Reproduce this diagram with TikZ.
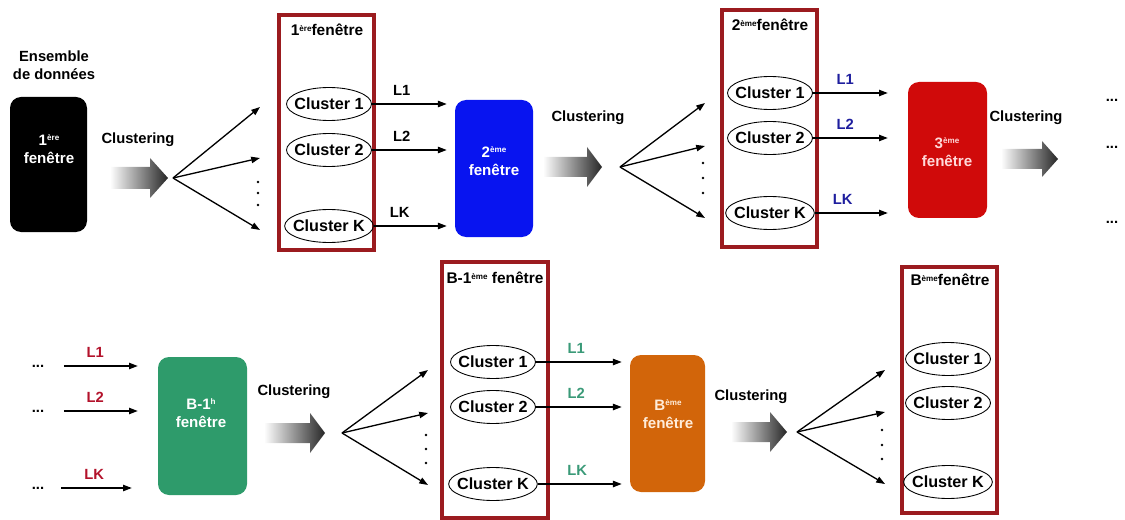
\documentclass[tikz,border=0pt]{standalone}
\usepackage{fontspec}
\setmainfont{Liberation Sans}
\usetikzlibrary{arrows.meta,shapes.geometric,fit}

\definecolor{framered}{HTML}{9B1B1F}
\definecolor{winblue}{HTML}{0814F0}
\definecolor{winred}{HTML}{D00A0A}
\definecolor{wingreen}{HTML}{2E9B6B}
\definecolor{winorange}{HTML}{D2650A}
\definecolor{lblblue}{HTML}{1E1E9E}
\definecolor{lblred}{HTML}{B3122B}
\definecolor{lblgreen}{HTML}{3A9A78}

% small raised ordinal suffix
\newcommand\ordsup[1]{\raisebox{0.55ex}{\fontsize{4.6}{5}\selectfont #1}}

% shaded "Clustering" arrow: shaft start, head start, tip, centre y, shaft half height, head half height
\newcommand\gradarrow[6]{%
  \shade[left color=white, right color=black!85]
    (#1,#4-#5) -- (#2,#4-#5) -- (#2,#4-#6) -- (#3,#4) -- (#2,#4+#6)
    -- (#2,#4+#5) -- (#1,#4+#5) -- cycle;}

\newcommand\vdotsat[4]{%
  \foreach \yy in {#2,#3,#4} {\fill (#1,\yy) circle[radius=1.3];}}

\begin{document}
\begin{tikzpicture}[x=0.02cm, y=-0.02cm,
  txt/.style={font=\bfseries\fontsize{8.4}{10.2}\selectfont, inner sep=1pt},
  ttl/.style={font=\bfseries\fontsize{8.8}{10}\selectfont, inner sep=1pt},
  cl/.style={ellipse, draw, line width=0.5pt, inner xsep=-2.6pt, inner ysep=0pt,
    minimum width=1.7cm, minimum height=0.66cm,
    font=\bfseries\fontsize{9.2}{10}\selectfont},
  frame/.style={draw=framered, line width=2.2pt, inner sep=0pt},
  win/.style={rounded corners=0.22cm, inner sep=0pt},
  wintxt/.style={font=\bfseries\fontsize{8.6}{10.2}\selectfont, align=center, inner sep=0pt},
  arr/.style={-{Triangle[length=5pt,width=3.6pt]}, line width=0.75pt},
  lab/.style={font=\bfseries\fontsize{8.4}{10}\selectfont, above=3.5pt, inner sep=1pt}
]
\useasboundingbox (0,0) rectangle (1125,520);

%% ---------------- top row ----------------
\node[txt, align=center] (ens) at (54,65) {Ensemble\\de données};

\node[win, fill=black, fit={(10,97) (87,232)}] (win1) {};
\node[wintxt, text=white] (win1t) at (49,149) {1\ordsup{ère}\\fenêtre};

\node[txt] (clu1) at (138,140) {Clustering};
\gradarrow{110}{150}{168}{178}{11}{20}

\coordinate (o1) at (173,178);
\coordinate (t11) at (260,107);
\coordinate (t12) at (260,158);
\coordinate (t1k) at (260,230);
\draw[arr] (o1) -- (t11);
\draw[arr] (o1) -- (t12);
\draw[arr] (o1) -- (t1k);
\vdotsat{258}{182}{193}{205}

\node[frame, fit={(279,15) (374,250)}] (fr1) {};
\node[ttl] (fr1t) at (327,30) {1\ordsup{ère}fenêtre};
\node[cl] (w1c1) at (329,104) {Cluster 1};
\node[cl] (w1c2) at (329,150) {Cluster 2};
\node[cl] (w1ck) at (329,226) {Cluster K};

\node[win, fill=winblue, fit={(455,100) (533,237)}] (win2) {};
\node[wintxt, text=white] (win2t) at (494,161) {2\ordsup{ème}\\fenêtre};

\draw[arr, shorten >=4.5pt] (w1c1.east) -- (w1c1.east -| win2.west) node[lab, pos=0.36] {L1};
\draw[arr, shorten >=4.5pt] (w1c2.east) -- (w1c2.east -| win2.west) node[lab, pos=0.36] {L2};
\draw[arr, shorten >=4.5pt] (w1ck.east) -- (w1ck.east -| win2.west) node[lab, pos=0.32] {LK};

\node[txt] (clu2) at (588,118) {Clustering};
\gradarrow{543}{587}{602}{167}{10}{20}

\coordinate (o2) at (620,167);
\coordinate (t21) at (705,103);
\coordinate (t22) at (705,146);
\coordinate (t2k) at (705,218);
\draw[arr] (o2) -- (t21);
\draw[arr] (o2) -- (t22);
\draw[arr] (o2) -- (t2k);
\vdotsat{703}{163}{178}{193}

\node[frame, fit={(722,10) (817,247)}] (fr2) {};
\node[ttl] (fr2t) at (770,25) {2\ordsup{ème}fenêtre};
\node[cl] (w2c1) at (770,93) {Cluster 1};
\node[cl] (w2c2) at (770,138) {Cluster 2};
\node[cl] (w2ck) at (770,213) {Cluster K};

\node[win, fill=winred, fit={(908,82) (987,218)}] (win3) {};
\node[wintxt, text=white!85!red] (win3t) at (947,152) {3\ordsup{ème}\\fenêtre};

\draw[arr, shorten >=11.3pt] (w2c1.east) -- (w2c1.east -| win3.west) node[lab, text=lblblue, pos=0.34] {L1};
\draw[arr, shorten >=11.3pt] (w2c2.east) -- (w2c2.east -| win3.west) node[lab, text=lblblue, pos=0.34] {L2};
\draw[arr, shorten >=11.3pt] (w2ck.east) -- (w2ck.east -| win3.west) node[lab, text=lblblue, pos=0.3] {LK};

\node[txt] (clu3) at (1026,118) {Clustering};
\gradarrow{1001}{1042}{1058}{159}{10}{18}

\node[txt] (e1) at (1112,100) {...};
\node[txt] (e2) at (1112,147) {...};
\node[txt] (e3) at (1112,222) {...};

%% ---------------- bottom row ----------------
\node[txt] (d1) at (38,366) {...};
\node[txt] (d2) at (38,411) {...};
\node[txt] (dk) at (38,488) {...};

\node[win, fill=wingreen, fit={(158,357) (247,495)}] (winb1) {};
\node[wintxt, text=white] (winb1t) at (201,413) {B-1\ordsup{h}\\fenêtre};

\draw[arr, shorten <=10pt, shorten >=11.3pt] (d1.east) -- (d1.east -| winb1.west) node[lab, text=lblred, pos=0.44] {L1};
\draw[arr, shorten <=10pt, shorten >=11.3pt] (d2.east) -- (d2.east -| winb1.west) node[lab, text=lblred, pos=0.44] {L2};
\draw[arr, shorten <=8.5pt, shorten >=14.7pt] (dk.east) -- (dk.east -| winb1.west) node[lab, text=lblred, pos=0.43] {LK};

\node[txt] (clu5) at (294,392) {Clustering};
\gradarrow{264}{310}{325}{433}{10}{20}

\coordinate (o5) at (342,433);
\coordinate (t51) at (428,370);
\coordinate (t52) at (428,413);
\coordinate (t5k) at (428,485);
\draw[arr] (o5) -- (t51);
\draw[arr] (o5) -- (t52);
\draw[arr] (o5) -- (t5k);
\vdotsat{426}{435}{449}{463}

\node[frame, fit={(442,262) (548,518)}] (fr3) {};
\node[ttl] (fr3t) at (495,278) {B-1\ordsup{ème} fenêtre};
\node[cl] (w3c1) at (493,362) {Cluster 1};
\node[cl] (w3c2) at (493,407) {Cluster 2};
\node[cl] (w3ck) at (493,484) {Cluster K};

\node[win, fill=winorange, fit={(630,355) (705,492)}] (winb) {};
\node[wintxt, text=white!85!orange] (winbt) at (668,414) {B\ordsup{ème}\\fenêtre};

\draw[arr, shorten >=4.5pt] (w3c1.east) -- (w3c1.east -| winb.west) node[lab, text=lblgreen, pos=0.43] {L1};
\draw[arr, shorten >=4.5pt] (w3c2.east) -- (w3c2.east -| winb.west) node[lab, text=lblgreen, pos=0.43] {L2};
\draw[arr, shorten >=4.5pt] (w3ck.east) -- (w3ck.east -| winb.west) node[lab, text=lblgreen, pos=0.43] {LK};

\node[txt] (clu6) at (751,397) {Clustering};
\gradarrow{731}{770}{787}{432}{10}{20}

\coordinate (o6) at (797,432);
\coordinate (t61) at (885,370);
\coordinate (t62) at (885,412);
\coordinate (t6k) at (885,484);
\draw[arr] (o6) -- (t61);
\draw[arr] (o6) -- (t62);
\draw[arr] (o6) -- (t6k);
\vdotsat{882}{430}{445}{459}

\node[frame, fit={(902,267) (997,513)}] (fr4) {};
\node[ttl] (fr4t) at (950,280) {B\ordsup{ème}fenêtre};
\node[cl] (w4c1) at (948,359) {Cluster 1};
\node[cl] (w4c2) at (948,403) {Cluster 2};
\node[cl] (w4ck) at (948,482) {Cluster K};
\end{tikzpicture}
\end{document}
